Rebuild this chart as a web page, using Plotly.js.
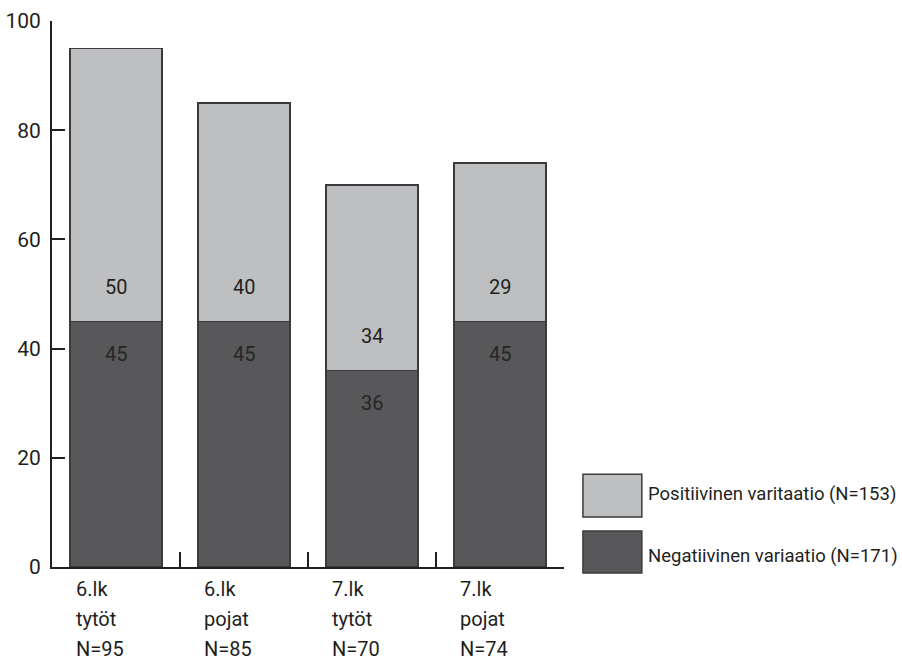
<!DOCTYPE html>
<html>
<head>
<meta charset="utf-8">
<script src="https://cdn.plot.ly/plotly-3.0.1.min.js"></script>
<style>html,body{margin:0;padding:0;background:#fff;}#chart{width:902px;height:661px;}</style>
</head>
<body>
<div id="chart"></div>
<script>
// Data
const gradeLabels = ['6.lk', '6.lk', '7.lk', '7.lk'];
const genderLabels = ['tytöt', 'pojat', 'tytöt', 'pojat'];
const groupN = [95, 85, 70, 74];
const negativeValues = [45, 45, 36, 45];
const positiveValues = [50, 40, 34, 29];
const seriesNames = ['Negatiivinen variaatio (N=171)', 'Positiivinen varitaatio (N=153)'];
const yTicks = [0, 20, 40, 60, 80, 100];

const FONT = 'Roboto, Liberation Sans, sans-serif';
const TXT = '#231f20';
const LIGHT = '#bebfc1';
const DARK = '#58585a';
const EDGE = '#3a3a3c';

const cats = gradeLabels.map((g, i) => g + ' ' + genderLabels[i] + ' N=' + groupN[i]);

const traces = [
  {type: 'bar', x: cats, y: negativeValues, name: seriesNames[0], width: 0.72,
   marker: {color: DARK, line: {color: EDGE, width: 1.5}}, hoverinfo: 'skip'},
  {type: 'bar', x: cats, y: positiveValues, name: seriesNames[1], width: 0.72,
   marker: {color: LIGHT, line: {color: EDGE, width: 1.5}}, hoverinfo: 'skip'}
];

const annotations = [];
cats.forEach((c, i) => {
  annotations.push({x: c, y: negativeValues[i], xref: 'x', yref: 'y', text: String(positiveValues[i]),
    showarrow: false, yshift: 34, font: {family: FONT, size: 20, color: TXT}});
  annotations.push({x: c, y: negativeValues[i], xref: 'x', yref: 'y', text: String(negativeValues[i]),
    showarrow: false, yshift: -33, font: {family: FONT, size: 20, color: '#262626'}});
  const lines = [gradeLabels[i], genderLabels[i], 'N=' + groupN[i]];
  lines.forEach((t, k) => {
    annotations.push({x: c, y: 0, xref: 'x', yref: 'y', xanchor: 'left', yanchor: 'middle', align: 'left',
      xshift: -42, yshift: -22 - 30 * k,
      text: t, showarrow: false, font: {family: FONT, size: 20, color: TXT}});
  });
});
// Legend labels (from series names)
annotations.push({x: 1.161, y: 0.133, xref: 'paper', yref: 'paper', xanchor: 'left', yanchor: 'middle',
  text: seriesNames[1], showarrow: false, font: {family: FONT, size: 18.5, color: TXT}});
annotations.push({x: 1.161, y: 0.020, xref: 'paper', yref: 'paper', xanchor: 'left', yanchor: 'middle',
  text: seriesNames[0], showarrow: false, font: {family: FONT, size: 18.5, color: TXT}});

const shapes = [
  {type: 'rect', xref: 'paper', yref: 'paper', x0: 1.037, x1: 1.152, y0: 0.0916, y1: 0.170,
   fillcolor: LIGHT, line: {color: EDGE, width: 1.5}},
  {type: 'rect', xref: 'paper', yref: 'paper', x0: 1.037, x1: 1.152, y0: -0.011, y1: 0.066,
   fillcolor: DARK, line: {color: EDGE, width: 1.5}}
];

const layout = {
  width: 902, height: 661,
  margin: {l: 52, r: 338, t: 21, b: 94},
  paper_bgcolor: '#fff', plot_bgcolor: '#fff',
  barmode: 'stack', bargap: 0.28,
  showlegend: false,
  font: {family: FONT, color: TXT, size: 20},
  xaxis: {type: 'category', range: [-0.5, 3.5], showticklabels: false,
    showline: true, linecolor: '#231f20', linewidth: 2,
    ticks: 'inside', tickson: 'boundaries', ticklen: 15, tickwidth: 2, tickcolor: '#231f20',
    showgrid: false, zeroline: false, fixedrange: true},
  yaxis: {range: [0, 100], tickvals: yTicks, ticktext: yTicks.map(String),
    showline: true, linecolor: '#231f20', linewidth: 2,
    ticks: 'inside', ticklen: 13, tickwidth: 2, tickcolor: '#231f20',
    ticklabelstandoff: 5,
    tickfont: {family: FONT, size: 21, color: TXT},
    showgrid: false, zeroline: false, fixedrange: true},
  annotations: annotations,
  shapes: shapes
};

Plotly.newPlot('chart', traces, layout, {displayModeBar: false, staticPlot: true});
</script>
</body>
</html>
